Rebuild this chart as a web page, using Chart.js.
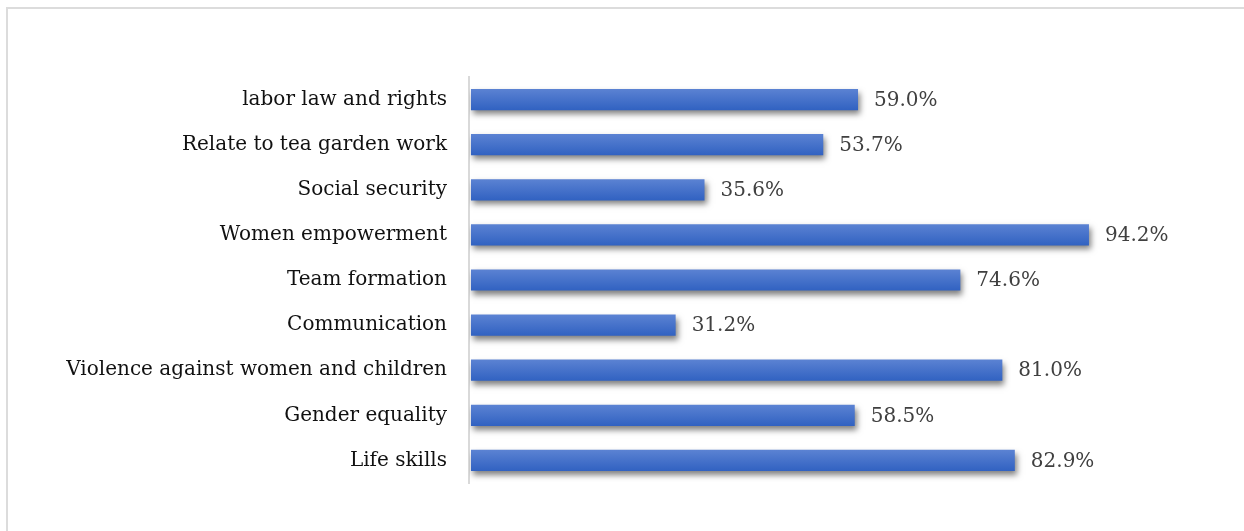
<!DOCTYPE html>
<html>
<head>
<meta charset="utf-8">
<script src="https://cdn.jsdelivr.net/npm/chart.js@4/dist/chart.umd.min.js"></script>
<style>
  html, body { margin: 0; padding: 0; background: #fff; overflow: hidden; }
  #frame {
    position: absolute; left: 6px; top: 7px; width: 1400px; height: 700px;
    border-top: 2px solid #dcdcdc; border-left: 2px solid #dcdcdc;
  }
  #wrap { position: absolute; left: 0; top: 0; width: 1244px; height: 531px; }
</style>
</head>
<body>
<div id="frame"></div>
<div id="wrap"><canvas id="grafico"></canvas></div>
<script>
const temas = [
  'labor law and rights',
  'Relate to tea garden work',
  'Social security',
  'Women empowerment',
  'Team formation',
  'Communication',
  'Violence against women and children',
  'Gender equality',
  'Life skills'
];
const porcentajes = [59.0, 53.7, 35.6, 94.2, 74.6, 31.2, 81.0, 58.5, 82.9];

const fuente = "'DejaVu Serif', serif";

// sombra bajo las barras
const sombra = {
  id: 'sombra',
  beforeDatasetsDraw(chart) {
    const c = chart.ctx;
    c.save();
    c.shadowColor = 'rgba(0,0,0,0.5)';
    c.shadowBlur = 6;
    c.shadowOffsetX = 2;
    c.shadowOffsetY = 4;
  },
  afterDatasetsDraw(chart) {
    chart.ctx.restore();
  }
};

// etiquetas con el valor al final de cada barra
const etiquetas = {
  id: 'etiquetas',
  afterDraw(chart) {
    const c = chart.ctx;
    const meta = chart.getDatasetMeta(0);
    c.save();
    c.font = '20px ' + fuente;
    c.fillStyle = '#404040';
    c.textAlign = 'left';
    c.textBaseline = 'middle';
    meta.data.forEach((bar, i) => {
      c.fillText(porcentajes[i].toFixed(1) + '%', bar.x + 16, bar.y + 1);
    });
    c.restore();
  }
};

function degradado(context) {
  const chart = context.chart;
  if (!chart.chartArea || !chart.scales.y) return '#4472c4';
  const y = chart.scales.y.getPixelForValue(context.dataIndex);
  const g = chart.ctx.createLinearGradient(0, y - 11, 0, y + 11);
  g.addColorStop(0, '#5c83d3');
  g.addColorStop(1, '#3061c1');
  return g;
}

const ctx = document.getElementById('grafico').getContext('2d');
const grafico = new Chart(ctx, {
  type: 'bar',
  data: {
    labels: temas,
    datasets: [{
      data: porcentajes,
      backgroundColor: degradado,
      borderWidth: 0,
      barPercentage: 0.47,
      categoryPercentage: 1
    }]
  },
  plugins: [sombra, etiquetas],
  options: {
    indexAxis: 'y',
    responsive: true,
    maintainAspectRatio: false,
    animation: false,
    layout: { padding: { left: 0, right: 117, top: 77, bottom: 48 } },
    plugins: {
      legend: { display: false },
      tooltip: { enabled: false },
      title: { display: false }
    },
    scales: {
      x: { display: false, min: -0.3, max: 100 },
      y: {
        afterFit(scale) { scale.width = 469; },
        grid: { display: false },
        border: { display: true, color: '#d9d9d9', width: 2 },
        ticks: {
          color: '#111111',
          padding: 14,
          font: { family: fuente, size: 20 }
        }
      }
    }
  }
});
</script>
</body>
</html>
